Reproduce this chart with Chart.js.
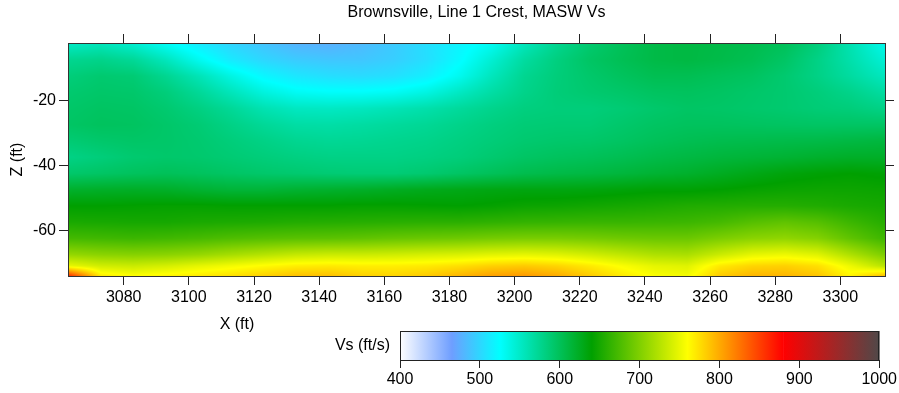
<!DOCTYPE html>
<html>
<head>
<meta charset="utf-8">
<script src="https://cdn.jsdelivr.net/npm/chart.js@4.4.1/dist/chart.umd.min.js"></script>
<style>
  body { margin: 0; background: #fff; }
  #wrap { position: relative; width: 899px; height: 393px; }
  #main { position: absolute; left: 0; top: 0; }
  #bar { position: absolute; left: 0; top: 300px; }
</style>
</head>
<body>
<div id="wrap">
  <canvas id="main" width="899" height="393"></canvas>
  <canvas id="bar" width="899" height="93"></canvas>
</div>
<script>
// grid positions
const xFt = [3063, 3073, 3083, 3093, 3103, 3113, 3123, 3133, 3143, 3153, 3163, 3173, 3183,
             3193, 3203, 3213, 3223, 3233, 3243, 3253, 3263, 3273, 3283, 3293, 3303, 3313];
const zFt = [-2.3, -7.5, -12.5, -17.5, -22.5, -27.5, -32.5, -37.5, -42.5, -47.5, -52.5, -57.5, -62.5, -67.5, -71, -74.1];

// Vs (ft/s), one row per depth
const vs_z02 = [550, 555, 545, 528, 512, 498, 488, 478, 476, 482, 492, 505, 518, 530, 555, 575, 590, 600, 608, 610, 608, 605, 600, 585, 560, 535];
const vs_z07 = [575, 578, 572, 555, 532, 512, 500, 493, 490, 490, 495, 505, 522, 545, 568, 583, 595, 602, 608, 610, 607, 603, 595, 580, 563, 545];
const vs_z12 = [585, 590, 588, 575, 558, 538, 520, 510, 505, 503, 506, 515, 532, 555, 575, 585, 592, 598, 603, 603, 600, 597, 590, 580, 568, 555];
const vs_z17 = [590, 593, 592, 585, 572, 556, 540, 530, 527, 527, 530, 538, 552, 566, 578, 586, 590, 593, 597, 598, 596, 593, 590, 585, 578, 568];
const vs_z22 = [593, 596, 595, 590, 582, 572, 560, 553, 552, 554, 558, 563, 570, 577, 583, 585, 585, 588, 592, 595, 594, 592, 590, 587, 585, 580];
const vs_z27 = [595, 598, 597, 593, 588, 580, 572, 566, 565, 567, 570, 573, 578, 583, 587, 588, 588, 592, 596, 598, 598, 597, 596, 595, 595, 595];
const vs_z32 = [588, 592, 594, 593, 590, 585, 580, 575, 573, 574, 576, 578, 582, 586, 590, 592, 593, 596, 600, 603, 605, 606, 607, 608, 610, 612];
const vs_z37 = [580, 585, 590, 592, 591, 588, 585, 582, 580, 580, 580, 582, 585, 590, 595, 598, 600, 603, 607, 610, 613, 615, 617, 620, 622, 622];
const vs_z42 = [592, 595, 598, 600, 598, 595, 592, 590, 588, 587, 587, 590, 595, 600, 605, 608, 610, 613, 617, 620, 625, 630, 635, 638, 640, 638];
const vs_z47 = [620, 622, 623, 622, 618, 615, 615, 618, 620, 622, 625, 628, 630, 632, 633, 633, 634, 636, 638, 638, 640, 643, 645, 646, 646, 645];
const vs_z52 = [640, 640, 641, 642, 642, 641, 641, 641, 641, 642, 642, 641, 640, 642, 645, 646, 648, 650, 652, 655, 656, 657, 657, 655, 652, 650];
const vs_z57 = [652, 651, 650, 650, 652, 653, 654, 656, 657, 658, 659, 660, 660, 662, 664, 665, 666, 666, 667, 668, 672, 680, 685, 680, 668, 658];
const vs_z62 = [672, 670, 668, 670, 673, 677, 680, 682, 683, 685, 688, 690, 692, 695, 697, 697, 695, 692, 690, 690, 698, 705, 708, 702, 685, 670];
const vs_z67 = [710, 705, 703, 705, 710, 718, 725, 732, 735, 735, 737, 740, 742, 746, 748, 745, 738, 730, 722, 720, 735, 748, 752, 745, 722, 700];
const vs_z71 = [750, 738, 735, 740, 748, 755, 762, 768, 770, 768, 768, 770, 775, 782, 785, 780, 770, 758, 748, 745, 770, 780, 782, 775, 752, 728];
const vs_z74 = [860, 770, 760, 765, 770, 775, 782, 790, 790, 782, 780, 785, 795, 805, 808, 800, 785, 770, 758, 755, 785, 795, 795, 788, 765, 790];
const vsGrid = [vs_z02, vs_z07, vs_z12, vs_z17, vs_z22, vs_z27, vs_z32, vs_z37,
                vs_z42, vs_z47, vs_z52, vs_z57, vs_z62, vs_z67, vs_z71, vs_z74];

// axis ticks
const xTickValues = [3080, 3100, 3120, 3140, 3160, 3180, 3200, 3220, 3240, 3260, 3280, 3300];
const zTickValues = [-60, -40, -20];
const cbTickValues = [400, 500, 600, 700, 800, 900, 1000];

// colour scale
const cbValues = [400, 465, 525, 640, 760, 880, 1000];
const cbColors = ['#ffffff', '#6e9eff', '#00ffff', '#00a000', '#ffff00', '#ff0000', '#504848'];

const FONT = 'Liberation Sans, Arial, sans-serif';
const xMin = 3062.9, xMax = 3313.7, zMin = -74.1, zMax = -2.3;

function hexRgb(h) {
  return [parseInt(h.slice(1, 3), 16), parseInt(h.slice(3, 5), 16), parseInt(h.slice(5, 7), 16)];
}
const cbRgb = cbColors.map(hexRgb);

function colorFor(v) {
  if (v <= cbValues[0]) return cbRgb[0];
  for (let i = 0; i < cbValues.length - 1; i++) {
    if (v <= cbValues[i + 1]) {
      const t = (v - cbValues[i]) / (cbValues[i + 1] - cbValues[i]);
      const a = cbRgb[i], b = cbRgb[i + 1];
      return [a[0] + (b[0] - a[0]) * t, a[1] + (b[1] - a[1]) * t, a[2] + (b[2] - a[2]) * t];
    }
  }
  return cbRgb[cbRgb.length - 1];
}

function locate(arr, v) {
  // returns [index, frac] for an ascending or descending array
  const asc = arr[arr.length - 1] > arr[0];
  for (let i = 0; i < arr.length - 1; i++) {
    const a = arr[i], b = arr[i + 1];
    if (asc ? v <= b : v >= b) {
      let t = (v - a) / (b - a);
      return [i, Math.max(0, Math.min(1, t))];
    }
  }
  return [arr.length - 2, 1];
}

function sample(x, z) {
  const [i, tx] = locate(xFt, x);
  const [j, tz] = locate(zFt, z);
  const r0 = vsGrid[j], r1 = vsGrid[j + 1];
  const top = r0[i] + (r0[i + 1] - r0[i]) * tx;
  const bot = r1[i] + (r1[i + 1] - r1[i]) * tx;
  return top + (bot - top) * tz;
}

const heatmap = {
  id: 'heatmap',
  beforeDraw(chart) {
    const { ctx, chartArea } = chart;
    const xs = chart.scales.x, ys = chart.scales.y;
    const left = Math.round(chartArea.left), top = Math.round(chartArea.top);
    const w = Math.round(chartArea.right) - left, h = Math.round(chartArea.bottom) - top;
    const img = ctx.createImageData(w, h);
    for (let py = 0; py < h; py++) {
      const z = ys.getValueForPixel(top + py + 0.5);
      for (let px = 0; px < w; px++) {
        const x = xs.getValueForPixel(left + px + 0.5);
        const c = colorFor(sample(x, z));
        const k = (py * w + px) * 4;
        img.data[k] = c[0]; img.data[k + 1] = c[1]; img.data[k + 2] = c[2]; img.data[k + 3] = 255;
      }
    }
    ctx.putImageData(img, left, top);
  },
  afterDraw(chart) {
    const { ctx, chartArea } = chart;
    ctx.save();
    ctx.fillStyle = '#000';
    ctx.font = '16px ' + FONT;
    ctx.textAlign = 'center';
    ctx.textBaseline = 'middle';
    ctx.fillText('Brownsville, Line 1 Crest, MASW Vs', (chartArea.left + chartArea.right) / 2, 13);
    ctx.fillText('X (ft)', 237, 325);
    ctx.translate(18, (chartArea.top + chartArea.bottom) / 2);
    ctx.rotate(-Math.PI / 2);
    ctx.fillText('Z (ft)', 0, 0);
    ctx.restore();
  }
};

const plain = v => String(v);
const tickFont = { family: FONT, size: 16 };
const gridOpts = { drawOnChartArea: false, drawTicks: true, tickLength: 9, color: '#222' };
const borderOpts = { display: true, color: '#333' };

new Chart(document.getElementById('main'), {
  type: 'scatter',
  data: { datasets: [] },
  options: {
    responsive: false,
    animation: false,
    layout: { padding: 0 },
    plugins: { legend: { display: false }, tooltip: { enabled: false }, title: { display: false } },
    scales: {
      x: {
        type: 'linear', position: 'bottom', min: xMin, max: xMax,
        afterBuildTicks: s => { s.ticks = xTickValues.map(v => ({ value: v })); },
        afterFit: s => { s.height = 117; },
        ticks: { font: tickFont, color: '#000', padding: 3, maxRotation: 0, autoSkip: false, callback: plain },
        grid: gridOpts, border: borderOpts
      },
      xTop: {
        type: 'linear', position: 'top', min: xMin, max: xMax,
        afterBuildTicks: s => { s.ticks = xTickValues.map(v => ({ value: v })); },
        afterFit: s => { s.height = 43; },
        ticks: { display: false },
        grid: gridOpts, border: borderOpts
      },
      y: {
        type: 'linear', position: 'left', min: zMin, max: zMax,
        afterBuildTicks: s => { s.ticks = zTickValues.map(v => ({ value: v })); },
        afterFit: s => { s.width = 68; },
        ticks: { font: tickFont, color: '#000', padding: 3, callback: plain },
        grid: gridOpts, border: borderOpts
      },
      yRight: {
        type: 'linear', position: 'right', min: zMin, max: zMax,
        afterBuildTicks: s => { s.ticks = zTickValues.map(v => ({ value: v })); },
        afterFit: s => { s.width = 14; },
        ticks: { display: false },
        grid: gridOpts, border: borderOpts
      }
    }
  },
  plugins: [heatmap]
});

const colorBar = {
  id: 'colorBar',
  beforeDraw(chart) {
    const { ctx, chartArea } = chart;
    const xs = chart.scales.x;
    ctx.save();
    for (let i = 0; i < cbValues.length - 1; i++) {
      const x0 = xs.getPixelForValue(cbValues[i]);
      const x1 = xs.getPixelForValue(cbValues[i + 1]);
      const g = ctx.createLinearGradient(x0, 0, x1, 0);
      g.addColorStop(0, cbColors[i]);
      g.addColorStop(1, cbColors[i + 1]);
      ctx.fillStyle = g;
      ctx.fillRect(x0, chartArea.top, x1 - x0 + 0.5, chartArea.bottom - chartArea.top);
    }
    ctx.strokeStyle = '#222';
    ctx.lineWidth = 1;
    ctx.strokeRect(Math.round(chartArea.left) + 0.5, Math.round(chartArea.top) + 0.5,
      Math.round(chartArea.right - chartArea.left) - 1, Math.round(chartArea.bottom - chartArea.top));
    ctx.fillStyle = '#000';
    ctx.font = '16px ' + FONT;
    ctx.textAlign = 'right';
    ctx.textBaseline = 'middle';
    ctx.fillText('Vs (ft/s)', chartArea.left - 10, (chartArea.top + chartArea.bottom) / 2);
    ctx.restore();
  }
};

new Chart(document.getElementById('bar'), {
  type: 'scatter',
  data: { datasets: [] },
  options: {
    responsive: false,
    animation: false,
    layout: { padding: { left: 400, right: 19, top: 31, bottom: 0 } },
    plugins: { legend: { display: false }, tooltip: { enabled: false } },
    scales: {
      x: {
        type: 'linear', position: 'bottom', min: 400, max: 1000,
        afterBuildTicks: s => { s.ticks = cbTickValues.map(v => ({ value: v })); },
        afterFit: s => { s.height = 33; },
        ticks: { font: tickFont, color: '#000', padding: 2, maxRotation: 0, autoSkip: false, callback: plain },
        grid: { drawOnChartArea: false, drawTicks: true, tickLength: 8, color: '#222' },
        border: { display: true, color: '#222' }
      },
      y: { display: false, min: 0, max: 1 }
    }
  },
  plugins: [colorBar]
});
</script>
</body>
</html>
